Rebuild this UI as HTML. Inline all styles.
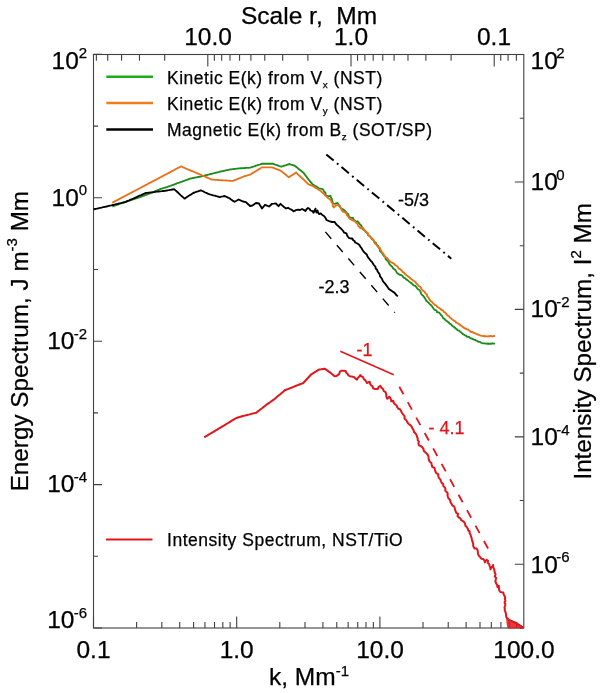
<!DOCTYPE html>
<html><head><meta charset="utf-8"><style>
html,body{margin:0;padding:0;background:#fff;}
svg{display:block;will-change:transform;}
text{font-family:"Liberation Sans",sans-serif;stroke:currentColor;stroke-width:0.25px;}
</style></head><body>
<svg width="600" height="693" viewBox="0 0 600 693">
<rect width="600" height="693" fill="#fff"/>
<rect x="93.5" y="54.5" width="430.3" height="573.5" fill="none" stroke="#404040" stroke-width="1.1"/>
<path d="M93.50 628.0v-11.5 M136.61 628.0v-6 M161.82 628.0v-6 M179.71 628.0v-6 M193.59 628.0v-6 M204.93 628.0v-6 M214.52 628.0v-6 M222.82 628.0v-6 M230.15 628.0v-6 M236.70 628.0v-11.5 M279.81 628.0v-6 M305.02 628.0v-6 M322.91 628.0v-6 M336.79 628.0v-6 M348.13 628.0v-6 M357.72 628.0v-6 M366.02 628.0v-6 M373.35 628.0v-6 M379.90 628.0v-11.5 M423.01 628.0v-6 M448.22 628.0v-6 M466.11 628.0v-6 M479.99 628.0v-6 M491.33 628.0v-6 M500.92 628.0v-6 M509.22 628.0v-6 M516.55 628.0v-6 M516.38 54.5v6.2 M508.08 54.5v6.2 M500.75 54.5v6.2 M494.20 54.5v12 M451.09 54.5v6.2 M425.88 54.5v6.2 M407.98 54.5v6.2 M394.11 54.5v6.2 M382.77 54.5v6.2 M373.18 54.5v6.2 M364.88 54.5v6.2 M357.55 54.5v6.2 M351.00 54.5v12 M307.89 54.5v6.2 M282.68 54.5v6.2 M264.78 54.5v6.2 M250.91 54.5v6.2 M239.57 54.5v6.2 M229.98 54.5v6.2 M221.68 54.5v6.2 M214.35 54.5v6.2 M207.80 54.5v12 M164.69 54.5v6.2 M139.48 54.5v6.2 M121.58 54.5v6.2 M107.71 54.5v6.2 M96.37 54.5v6.2 M93.5 628.00h8.5 M93.5 556.30h4.5 M93.5 484.60h8.5 M93.5 412.90h4.5 M93.5 341.20h8.5 M93.5 269.50h4.5 M93.5 197.80h8.5 M93.5 126.10h4.5 M93.5 54.40h8.5 M523.8 628.00h-4 M523.8 564.28h-9 M523.8 500.56h-4 M523.8 436.84h-9 M523.8 373.12h-4 M523.8 309.40h-9 M523.8 245.68h-4 M523.8 181.96h-9 M523.8 118.24h-4 M523.8 54.52h-9" stroke="#404040" stroke-width="1.1" fill="none"/>
<g font-size="24.5">
<text x="241" y="23.5">Scale r,&#160; Mm</text>
<text x="208" y="44.5" text-anchor="middle">10.0</text>
<text x="351" y="44.5" text-anchor="middle">1.0</text>
<text x="494" y="44.5" text-anchor="middle">0.1</text>
<text x="93.5" y="658" text-anchor="middle">0.1</text>
<text x="236.7" y="658" text-anchor="middle">1.0</text>
<text x="380" y="658" text-anchor="middle">10.0</text>
<text x="524" y="658" text-anchor="middle">100.0</text>
<text x="269" y="684.5">k, Mm<tspan font-size="15" dy="-9">-1</tspan></text>
</g>
<g font-size="24.5">
<text x="51.5" y="68.5">10<tspan font-size="15" dy="-10.5">2</tspan></text>
<text x="51.5" y="205.7">10<tspan font-size="15" dy="-10.5">0</tspan></text>
<text x="47.2" y="349">10<tspan font-size="15" dy="-10.5" dx="-0.8">-2</tspan></text>
<text x="47.2" y="492">10<tspan font-size="15" dy="-10.5" dx="-0.8">-4</tspan></text>
<text x="47.2" y="628">10<tspan font-size="15" dy="-10.5" dx="-0.8">-6</tspan></text>
<text x="530.5" y="68.5">10<tspan font-size="15" dy="-10.5" dx="-1.5">2</tspan></text>
<text x="530.5" y="190">10<tspan font-size="15" dy="-10.5" dx="-1.5">0</tspan></text>
<text x="530.5" y="317.4">10<tspan font-size="15" dy="-10.5" dx="-1.5">-2</tspan></text>
<text x="530.5" y="445">10<tspan font-size="15" dy="-10.5" dx="-1.5">-4</tspan></text>
<text x="530.5" y="572.5">10<tspan font-size="15" dy="-10.5" dx="-1.5">-6</tspan></text>
</g>
<text font-size="24.25" transform="translate(27.8,491.3) rotate(-90)">Energy Spectrum, J m<tspan font-size="15" dy="-11">-3</tspan><tspan dy="11"> Mm</tspan></text>
<text font-size="24.25" transform="translate(591.2,479.6) rotate(-90)">Intensity Spectrum, I<tspan font-size="15" dy="-10">2</tspan><tspan dy="10"> Mm</tspan></text>
<g font-size="17.5" letter-spacing="0.52">
<text x="167" y="83.75">Kinetic E(k) from V<tspan font-size="9.8" dy="3.8">x</tspan><tspan dy="-3.8"> (NST)</tspan></text>
<text x="167" y="110">Kinetic E(k) from V<tspan font-size="9.8" dy="3.8">y</tspan><tspan dy="-3.8"> (NST)</tspan></text>
<text x="167" y="136.25">Magnetic E(k) from B<tspan font-size="9.8" dy="3.8">z</tspan><tspan dy="-3.8"> (SOT/SP)</tspan></text>
</g>
<path d="M106.3 76.8H153" stroke="#1faa1f" stroke-width="2.5"/>
<path d="M106.3 103H153" stroke="#f07d1e" stroke-width="2.5"/>
<path d="M106.3 129.5H153" stroke="#000" stroke-width="2.5"/>
<g fill="none" stroke-width="1.85" stroke-linejoin="round">
<path d="M112.3 206.3 L113.1 206.0 L113.9 205.8 L114.6 205.5 L115.4 205.3 L116.2 205.0 L117.0 204.8 L117.7 204.5 L118.5 204.3 L119.3 204.0 L120.1 203.7 L120.9 203.5 L121.6 203.2 L122.4 203.0 L123.2 202.7 L124.0 202.5 L124.7 202.2 L125.5 202.0 L126.3 201.7 L127.1 201.4 L127.8 201.2 L128.6 200.9 L129.3 200.7 L130.1 200.4 L130.9 200.2 L131.6 199.9 L132.4 199.7 L133.1 199.4 L133.9 199.2 L134.7 198.9 L135.4 198.7 L136.2 198.4 L137.0 198.2 L137.7 197.9 L138.5 197.7 L139.2 197.4 L140.0 197.2 L140.8 196.9 L141.7 196.5 L142.5 196.2 L143.3 195.9 L144.2 195.6 L145.0 195.2 L145.8 194.9 L146.7 194.6 L147.5 194.3 L148.3 194.0 L149.2 193.6 L150.0 193.3 L150.8 193.0 L151.7 192.6 L152.5 192.3 L153.3 191.9 L154.2 191.6 L155.0 191.2 L155.8 190.9 L156.7 190.6 L157.5 190.2 L158.3 189.9 L159.2 189.5 L160.0 189.2 L160.8 188.9 L161.7 188.7 L162.5 188.4 L163.3 188.1 L164.2 187.9 L165.0 187.6 L165.8 187.3 L166.7 187.1 L167.5 186.8 L168.3 186.5 L169.2 186.3 L170.0 186.0 L170.8 185.7 L171.7 185.4 L172.5 185.1 L173.3 184.8 L174.2 184.5 L175.0 184.2 L175.8 183.8 L176.7 183.5 L177.5 183.2 L178.3 182.9 L179.2 182.6 L180.0 182.3 L180.8 182.0 L181.7 181.7 L182.5 181.4 L183.3 181.1 L184.2 180.8 L185.0 180.5 L185.8 180.2 L186.7 179.9 L187.5 179.6 L188.3 179.3 L189.2 179.0 L190.0 178.7 L190.8 178.5 L191.7 178.4 L192.5 178.2 L193.3 178.0 L194.2 177.9 L195.0 177.7 L195.8 177.5 L196.7 177.4 L197.5 177.2 L198.3 177.0 L199.2 176.9 L200.0 176.7 L200.8 176.5 L201.7 176.3 L202.5 176.1 L203.3 175.9 L204.2 175.7 L205.0 175.4 L205.8 175.2 L206.7 175.0 L207.5 174.8 L208.3 174.6 L209.2 174.4 L210.0 174.2 L210.8 174.0 L211.7 173.8 L212.5 173.6 L213.3 173.4 L214.2 173.2 L215.0 172.9 L215.8 172.7 L216.7 172.5 L217.5 172.3 L218.3 172.1 L219.2 171.9 L220.0 171.7 L220.8 171.5 L221.7 171.3 L222.5 171.1 L223.3 171.0 L224.2 170.8 L225.0 170.6 L225.8 170.4 L226.7 170.2 L227.5 170.1 L228.3 169.9 L229.2 169.7 L230.0 169.5 L230.8 169.4 L231.7 169.3 L232.5 169.2 L233.3 169.1 L234.2 169.0 L235.0 168.9 L235.8 168.8 L236.7 168.7 L237.5 168.6 L238.3 168.5 L239.2 168.4 L240.0 168.3 L240.8 168.2 L241.7 168.2 L242.5 168.2 L243.3 168.1 L244.2 168.1 L245.0 168.0 L245.8 167.9 L246.7 167.9 L247.5 167.8 L248.3 167.8 L249.2 167.8 L250.0 167.7 L250.9 167.4 L251.7 167.1 L252.6 166.8 L253.4 166.6 L254.3 166.3 L255.1 166.0 L256.0 165.7 L256.9 165.4 L257.7 165.1 L258.6 164.8 L259.4 164.6 L260.3 164.3 L261.1 164.0 L262.0 163.7 L262.9 163.7 L263.8 163.7 L264.7 163.7 L265.6 163.7 L266.5 163.7 L267.4 163.7 L268.2 163.7 L269.1 163.7 L270.0 163.7 L270.9 163.7 L271.8 163.7 L272.7 163.7 L273.6 164.0 L274.4 164.3 L275.3 164.6 L276.1 164.9 L277.0 165.2 L277.9 165.5 L278.7 165.8 L279.6 166.1 L280.4 166.4 L281.3 166.7 L282.1 166.4 L282.9 166.2 L283.7 165.9 L284.5 165.6 L285.3 165.3 L286.1 165.1 L286.9 164.8 L287.7 164.5 L288.5 164.3 L289.3 164.0 L290.2 164.3 L291.1 164.6 L292.0 164.8 L292.9 165.1 L293.8 165.4 L294.7 165.7 L295.4 166.2 L296.0 166.8 L296.7 167.3 L297.4 167.8 L298.0 168.4 L298.7 168.9 L299.3 169.5 L300.0 170.0 L300.8 170.6 L301.6 171.2 L302.5 171.9 L303.3 172.5 L303.8 173.2 L304.3 173.8 L304.8 174.5 L305.3 175.2 L305.8 175.8 L306.3 176.5 L306.8 177.2 L307.3 177.9 L307.8 178.5 L308.3 179.2 L308.8 179.8 L309.4 180.4 L309.9 181.1 L310.4 181.7 L310.9 182.3 L311.4 182.9 L312.0 183.6 L312.5 184.2 L313.3 184.7 L314.2 185.3 L315.0 185.8 L315.8 186.2 L316.7 186.6 L317.4 187.2 L318.1 187.9 L318.9 188.3 L319.8 188.6 L320.7 188.7 L321.7 188.8 L322.6 189.3 L323.4 189.8 L323.8 190.8 L324.2 191.7 L324.9 192.2 L325.5 192.8 L325.5 193.7 L325.5 194.7 L326.1 195.2 L326.7 195.8 L327.6 196.0 L328.5 196.1 L329.5 196.0 L330.4 195.8 L330.6 196.6 L330.8 197.4 L331.3 198.0 L331.8 198.7 L331.9 199.5 L332.0 200.4 L332.3 201.1 L332.6 201.9 L332.9 202.6 L333.3 203.3 L334.1 203.6 L335.0 203.8 L335.8 203.5 L336.7 203.2 L337.5 202.9 L338.0 203.8 L338.5 204.8 L339.3 205.5 L340.1 206.3 L340.5 207.3 L340.8 208.3 L341.5 208.7 L342.2 209.0 L343.0 209.4 L343.7 209.8 L344.3 210.3 L345.0 210.8 L345.5 211.4 L346.0 212.1 L346.4 212.7 L347.1 213.2 L347.7 213.7 L348.3 214.2 L348.5 215.2 L348.7 216.3 L349.5 217.0 L350.3 217.7 L351.2 217.8 L352.1 217.9 L353.0 218.0 L353.3 218.9 L353.6 219.7 L354.4 220.2 L355.2 220.7 L355.7 221.4 L356.3 222.0 L357.0 221.7 L357.7 221.3 L358.2 222.0 L358.7 222.7 L359.3 223.4 L359.8 224.1 L360.4 224.7 L361.0 225.4 L361.5 226.1 L361.9 226.9 L362.1 227.8 L362.3 228.7 L363.0 229.2 L363.6 229.8 L364.3 230.3 L365.1 230.8 L365.6 231.4 L366.2 232.1 L366.8 232.7 L367.5 233.3 L367.8 234.2 L368.1 235.1 L368.9 235.5 L369.6 236.0 L370.2 236.7 L370.8 237.3 L371.3 238.1 L371.9 238.9 L372.7 239.5 L373.4 240.1 L373.9 241.0 L374.3 241.9 L375.1 242.4 L376.0 242.9 L376.4 243.8 L376.8 244.6 L377.5 245.3 L378.1 245.9 L378.5 246.8 L378.9 247.7 L379.3 248.4 L379.7 249.2 L379.9 250.1 L380.0 251.0 L380.6 251.6 L381.2 252.2 L381.8 252.8 L382.3 253.5 L382.7 254.2 L383.1 254.8 L383.6 255.5 L384.0 256.1 L384.7 256.6 L385.4 257.1 L385.5 258.0 L385.6 259.0 L386.2 259.6 L386.8 260.2 L387.4 260.7 L388.1 261.2 L388.5 262.0 L388.8 262.8 L389.2 263.5 L389.6 264.3 L390.2 264.9 L390.8 265.5 L391.5 266.1 L392.1 266.7 L392.6 267.6 L393.2 268.5 L394.1 269.1 L395.0 269.6 L395.6 270.5 L396.2 271.3 L396.6 272.1 L397.1 273.0 L397.8 273.5 L398.4 274.1 L399.3 274.5 L400.2 274.8 L401.2 275.2 L402.2 275.6 L402.8 276.5 L403.4 277.4 L404.3 277.9 L405.3 278.3 L405.8 278.9 L406.4 279.6 L407.1 279.9 L407.8 280.3 L408.4 280.9 L409.0 281.4 L409.7 281.9 L410.3 282.4 L411.2 283.0 L412.0 283.6 L412.7 284.4 L413.4 285.2 L414.4 285.6 L415.4 285.9 L416.0 286.6 L416.6 287.3 L417.1 288.2 L417.6 289.0 L418.4 289.5 L419.3 290.0 L419.9 290.7 L420.4 291.5 L420.7 292.4 L421.0 293.3 L421.4 294.1 L421.9 294.8 L422.7 295.4 L423.4 296.0 L423.9 296.7 L424.4 297.5 L424.9 298.2 L425.4 298.8 L425.7 299.6 L426.0 300.4 L426.6 301.0 L427.2 301.5 L427.9 302.1 L428.5 302.6 L429.1 303.3 L429.8 304.1 L430.5 304.7 L431.3 305.4 L431.9 306.1 L432.4 306.9 L433.0 307.8 L433.5 308.6 L434.1 309.2 L434.6 309.8 L435.5 310.1 L436.4 310.3 L436.7 311.2 L437.0 312.1 L438.0 312.3 L438.9 312.4 L439.5 313.1 L440.0 313.7 L440.7 314.4 L441.2 315.3 L442.1 315.9 L442.5 316.9 L443.0 317.8 L443.7 318.5 L444.6 318.8 L445.0 319.6 L445.7 320.2 L446.4 320.8 L447.1 321.2 L447.7 321.9 L448.6 322.2 L449.0 323.0 L449.7 323.6 L450.3 324.1 L451.2 324.4 L451.6 325.2 L452.3 325.8 L453.0 326.4 L453.9 326.7 L454.3 327.5 L455.2 327.7 L455.6 328.5 L456.3 328.9 L457.0 329.4 L457.5 330.1 L458.3 330.4 L459.2 330.7 L459.6 331.4 L460.4 331.7 L461.0 332.4 L461.6 332.9 L462.3 333.4 L462.8 334.1 L463.7 334.3 L464.3 334.9 L465.0 335.3 L465.8 335.6 L466.6 336.1 L467.2 336.8 L468.2 336.9 L469.2 337.0 L469.8 337.7 L470.5 338.4 L471.4 338.5 L472.3 338.7 L473.0 339.3 L473.9 339.4 L474.6 339.9 L475.4 340.0 L476.1 340.6 L476.9 340.7 L477.6 341.2 L478.3 341.8 L479.2 341.8 L480.1 341.9 L480.8 342.5 L481.5 342.8 L482.3 343.1 L483.1 343.3 L484.0 343.3 L484.8 343.3 L485.6 343.6 L486.5 343.7 L487.3 343.8 L488.2 343.5 L489.0 344.0 L490.0 343.5 L491.0 343.8 L492.0 343.4 L493.0 343.5 L494.0 343.6 L495.0 343.3" stroke="#1a8c1a"/>
<path d="M112.3 202.7 L113.0 202.3 L113.7 201.9 L114.4 201.6 L115.2 201.2 L115.9 200.8 L116.6 200.4 L117.3 200.1 L118.0 199.7 L118.7 199.3 L119.5 198.9 L120.2 198.5 L120.9 198.2 L121.6 197.8 L122.3 197.4 L123.0 197.0 L123.8 196.6 L124.5 196.3 L125.2 195.9 L125.9 195.5 L126.6 195.1 L127.3 194.8 L128.0 194.4 L128.8 194.0 L129.5 193.6 L130.2 193.2 L130.9 192.9 L131.6 192.5 L132.3 192.1 L133.1 191.7 L133.8 191.4 L134.5 191.0 L135.2 190.6 L135.9 190.2 L136.6 189.8 L137.3 189.5 L138.1 189.1 L138.8 188.7 L139.5 188.3 L140.2 188.0 L140.9 187.6 L141.6 187.2 L142.4 186.8 L143.1 186.4 L143.8 186.1 L144.5 185.7 L145.2 185.3 L145.9 184.9 L146.7 184.6 L147.4 184.2 L148.1 183.8 L148.8 183.4 L149.5 183.0 L150.2 182.7 L150.9 182.3 L151.7 181.9 L152.4 181.5 L153.1 181.1 L153.8 180.8 L154.5 180.4 L155.2 180.0 L156.0 179.6 L156.7 179.3 L157.4 178.9 L158.1 178.5 L158.8 178.1 L159.5 177.7 L160.2 177.4 L161.0 177.0 L161.7 176.6 L162.4 176.2 L163.1 175.9 L163.8 175.5 L164.5 175.1 L165.3 174.7 L166.0 174.3 L166.7 174.0 L167.4 173.6 L168.1 173.2 L168.8 172.8 L169.6 172.4 L170.3 172.1 L171.0 171.7 L171.7 171.3 L172.4 170.9 L173.1 170.6 L173.8 170.2 L174.6 169.8 L175.3 169.4 L176.0 169.0 L176.7 168.7 L177.4 168.3 L178.1 167.9 L178.9 167.5 L179.6 167.2 L180.3 166.8 L181.0 166.4 L181.8 166.7 L182.5 167.0 L183.3 167.4 L184.0 167.7 L184.8 168.0 L185.5 168.3 L186.3 168.6 L187.1 169.0 L187.8 169.3 L188.6 169.6 L189.3 169.9 L190.1 170.2 L190.8 170.6 L191.6 170.9 L192.3 171.2 L193.1 171.5 L193.9 171.8 L194.6 172.2 L195.4 172.5 L196.1 172.8 L196.9 173.1 L197.6 173.4 L198.4 173.8 L199.2 174.1 L199.9 174.4 L200.7 174.7 L201.4 175.0 L202.2 175.4 L202.9 175.7 L203.7 176.0 L204.5 176.4 L205.3 176.7 L206.1 177.1 L206.9 177.4 L207.7 177.8 L208.5 178.2 L209.3 178.5 L210.1 178.9 L210.9 179.2 L211.7 179.6 L212.5 179.6 L213.3 179.7 L214.2 179.8 L215.0 179.8 L215.8 179.8 L216.6 179.9 L217.4 179.9 L218.3 180.0 L219.1 180.1 L219.9 180.1 L220.7 180.1 L221.5 180.2 L222.3 180.2 L223.2 180.3 L224.0 180.4 L224.8 180.4 L225.6 180.4 L226.4 180.5 L227.3 180.6 L228.1 180.6 L228.9 180.7 L229.7 180.7 L230.5 180.8 L231.4 180.8 L232.2 180.9 L233.0 180.9 L233.9 180.5 L234.8 180.2 L235.6 179.8 L236.5 179.4 L237.4 179.1 L238.2 178.7 L239.1 178.4 L240.0 178.0 L240.8 177.7 L241.7 177.3 L242.5 177.0 L243.3 176.7 L244.2 176.3 L245.0 176.0 L245.8 175.8 L246.7 175.6 L247.5 175.3 L248.3 175.1 L249.2 174.9 L250.0 174.7 L250.8 174.2 L251.5 173.8 L252.2 173.3 L253.0 172.8 L253.8 172.4 L254.5 171.9 L255.2 171.5 L256.0 171.0 L256.8 170.5 L257.5 170.1 L258.2 169.6 L259.0 169.2 L259.8 168.7 L260.5 168.2 L261.2 167.8 L262.0 167.3 L262.8 167.3 L263.7 167.3 L264.5 167.3 L265.3 167.3 L266.2 167.3 L267.0 167.3 L267.8 167.3 L268.7 167.3 L269.5 167.3 L270.3 167.3 L271.2 167.3 L272.0 167.3 L272.9 167.6 L273.7 168.0 L274.6 168.3 L275.5 168.7 L276.4 169.0 L277.2 169.3 L278.1 169.7 L279.0 170.0 L279.8 170.4 L280.7 170.7 L281.4 171.2 L282.1 171.8 L282.8 172.3 L283.5 172.9 L284.2 173.4 L284.9 174.0 L285.5 174.6 L286.2 175.1 L286.9 175.7 L287.6 176.2 L288.3 176.8 L289.0 177.3 L289.7 176.8 L290.4 176.3 L291.1 175.8 L291.8 175.3 L292.5 174.9 L293.2 174.4 L293.9 173.9 L294.6 173.4 L295.3 172.9 L296.0 172.4 L296.7 173.1 L297.3 173.7 L298.0 174.4 L298.7 175.0 L299.3 175.7 L300.0 176.3 L300.8 177.0 L301.6 177.8 L302.5 178.5 L303.3 179.2 L303.9 179.8 L304.6 180.4 L305.2 181.1 L305.8 181.7 L306.4 182.3 L307.1 182.9 L307.7 183.6 L308.3 184.2 L309.1 184.6 L310.0 184.9 L310.8 185.2 L311.6 185.6 L312.5 185.9 L313.3 186.3 L314.0 186.8 L314.8 187.2 L315.5 187.7 L316.2 188.2 L317.0 188.6 L317.7 189.1 L318.5 189.5 L319.2 190.0 L320.0 190.5 L320.9 191.0 L321.5 191.8 L322.1 192.5 L322.9 193.1 L323.7 193.6 L324.3 194.3 L325.0 195.0 L325.7 195.7 L326.3 196.4 L327.0 197.0 L327.7 197.6 L328.4 198.2 L329.2 198.8 L329.8 199.3 L330.3 199.8 L330.9 200.4 L331.2 201.1 L331.4 201.8 L331.7 202.5 L332.3 203.2 L332.9 203.9 L332.8 205.0 L332.7 206.0 L333.2 206.7 L333.8 207.5 L334.4 206.8 L335.1 206.1 L335.8 205.4 L336.6 205.3 L337.5 205.1 L338.3 205.0 L339.0 205.8 L339.7 206.5 L340.3 207.3 L340.8 208.2 L341.3 209.1 L341.7 210.0 L342.3 210.8 L342.9 211.6 L343.8 211.9 L344.8 212.2 L345.5 212.7 L346.3 213.3 L346.7 214.3 L347.1 215.3 L347.8 216.1 L348.6 216.9 L349.1 217.8 L349.7 218.7 L350.7 219.3 L351.6 219.8 L352.7 220.3 L353.7 220.7 L354.5 221.1 L355.3 221.5 L355.8 222.3 L356.3 223.0 L357.0 223.5 L357.7 224.0 L357.9 224.8 L358.2 225.7 L358.8 226.3 L359.4 226.9 L359.9 227.6 L360.3 228.3 L361.2 228.1 L362.1 227.9 L363.0 227.7 L363.4 228.5 L363.8 229.3 L364.4 230.0 L365.0 230.8 L365.6 231.4 L366.2 232.1 L367.0 232.6 L367.7 233.1 L368.0 234.0 L368.3 234.9 L368.9 235.5 L369.6 236.1 L370.2 236.7 L370.8 237.3 L371.5 238.0 L372.2 238.7 L372.9 239.4 L373.6 240.0 L373.9 241.0 L374.3 241.9 L374.7 242.8 L375.1 243.6 L375.9 244.2 L376.6 244.8 L377.1 245.6 L377.5 246.4 L378.2 247.1 L378.9 247.7 L380.0 248.0 L380.2 248.8 L380.4 249.6 L380.9 250.3 L381.4 251.0 L381.7 251.7 L382.0 252.5 L382.6 253.1 L383.3 253.6 L383.7 254.4 L384.0 255.1 L384.6 255.9 L385.1 256.7 L385.9 257.2 L386.8 257.7 L387.4 258.4 L388.1 259.1 L388.6 259.9 L389.1 260.7 L389.8 261.3 L390.5 261.8 L391.3 262.3 L392.1 262.7 L393.0 263.1 L394.0 263.6 L394.6 264.4 L395.2 265.2 L396.0 265.5 L396.7 265.9 L397.3 266.4 L397.9 266.9 L398.3 267.8 L398.6 268.6 L399.4 268.9 L400.2 269.2 L400.9 269.8 L401.5 270.4 L402.1 271.1 L402.6 271.9 L403.4 272.4 L404.2 272.9 L404.7 273.6 L405.3 274.3 L405.9 274.8 L406.5 275.3 L407.2 275.7 L407.9 276.2 L408.5 276.7 L409.2 277.2 L409.7 277.7 L410.3 278.3 L411.1 278.9 L411.9 279.6 L412.8 280.2 L413.6 280.8 L414.5 281.3 L415.4 281.9 L415.9 282.7 L416.3 283.5 L417.0 284.0 L417.7 284.6 L418.3 285.3 L418.8 286.0 L419.6 286.5 L420.4 286.9 L420.9 287.8 L421.4 288.7 L422.0 289.5 L422.6 290.4 L423.5 290.9 L424.4 291.5 L424.8 292.3 L425.3 293.1 L426.0 293.7 L426.8 294.3 L427.0 295.3 L427.1 296.2 L427.8 296.9 L428.5 297.5 L428.9 298.4 L429.3 299.4 L430.0 300.1 L430.6 300.9 L431.4 301.5 L432.2 302.1 L432.8 302.9 L433.5 303.6 L434.1 304.2 L434.6 304.8 L435.5 305.1 L436.3 305.3 L436.7 306.1 L437.2 306.9 L437.9 307.3 L438.6 307.7 L439.3 308.1 L440.0 308.6 L440.8 308.9 L441.1 309.8 L442.0 310.0 L442.8 310.3 L443.2 311.1 L443.7 311.8 L444.4 312.2 L445.3 312.6 L445.6 313.4 L446.4 313.8 L446.9 314.5 L447.2 315.4 L448.1 315.6 L448.8 316.0 L449.3 316.8 L449.8 317.4 L450.5 317.9 L451.1 318.4 L451.7 319.0 L452.4 319.5 L453.0 320.0 L453.7 320.4 L454.4 320.9 L455.2 321.2 L455.7 321.9 L456.2 322.6 L457.0 322.9 L457.9 323.1 L458.3 323.8 L459.1 324.1 L459.6 324.8 L460.5 324.9 L461.0 325.7 L461.7 326.1 L462.3 326.7 L463.1 327.1 L463.9 327.6 L464.5 328.3 L465.4 328.5 L466.3 328.8 L467.0 329.4 L467.9 329.5 L468.6 330.2 L469.4 330.5 L470.1 331.1 L470.7 331.9 L471.7 332.0 L472.6 332.0 L473.2 332.6 L474.0 333.0 L474.8 333.2 L475.6 333.5 L476.4 333.9 L477.1 334.3 L477.9 334.5 L478.7 334.7 L479.4 335.1 L480.2 335.5 L481.0 335.7 L481.8 335.8 L482.7 335.9 L483.5 336.1 L484.4 336.0 L485.2 336.5 L486.0 336.2 L486.9 336.4 L487.7 336.4 L488.6 336.1 L489.5 336.3 L490.4 335.9 L491.4 336.2 L492.3 336.5 L493.2 336.1 L494.1 336.0 L495.0 336.0" stroke="#e87018"/>
<path d="M93.5 209.4 L95.1 209.0 L96.8 208.7 L98.4 208.3 L100.0 207.9 L101.6 207.6 L103.2 207.2 L104.9 206.8 L106.5 206.5 L108.1 206.1 L109.8 205.7 L111.4 205.4 L113.0 205.0 L114.6 204.6 L116.2 204.2 L117.8 203.8 L119.3 203.4 L120.9 203.1 L122.5 202.7 L124.1 202.3 L125.7 201.9 L127.2 201.2 L128.8 200.5 L130.3 199.8 L131.9 199.2 L133.4 198.5 L134.9 197.8 L136.5 197.1 L138.0 196.4 L139.5 195.7 L141.1 195.1 L142.6 194.4 L144.2 193.7 L145.7 193.0 L147.3 192.8 L148.9 192.6 L150.5 192.4 L152.2 192.3 L153.8 192.1 L155.4 191.9 L157.0 191.7 L158.6 191.5 L160.2 191.3 L161.8 191.2 L163.4 191.0 L165.0 190.8 L166.8 190.5 L168.7 190.2 L170.5 189.8 L172.4 189.5 L174.2 189.2 L175.5 190.4 L176.8 191.5 L178.1 192.7 L179.3 193.9 L180.6 195.1 L181.9 196.2 L183.2 197.4 L184.5 198.6 L185.9 197.7 L187.4 196.7 L188.8 195.8 L190.3 194.9 L191.8 193.9 L193.2 193.0 L194.7 192.5 L196.2 191.9 L197.8 191.4 L199.3 190.8 L200.8 190.3 L202.3 191.0 L203.8 191.7 L205.3 192.5 L206.8 193.2 L208.3 193.9 L209.9 194.4 L211.6 194.8 L213.2 195.3 L214.8 195.7 L216.4 196.2 L218.1 196.6 L219.7 197.1 L221.3 196.7 L223.0 196.4 L224.6 196.0 L226.1 196.7 L227.5 197.3 L229.0 198.0 L230.4 198.9 L231.8 199.9 L233.1 200.9 L234.5 201.8 L236.5 200.7 L238.5 199.5 L240.0 200.2 L241.5 200.8 L243.0 201.5 L246.0 202.2 L247.3 203.5 L248.7 204.7 L250.0 206.0 L252.5 205.5 L254.2 204.2 L256.0 203.0 L259.0 203.5 L260.0 205.2 L261.0 206.8 L262.0 208.5 L263.5 206.7 L265.0 204.8 L267.0 205.7 L269.0 206.5 L270.5 205.2 L272.0 203.8 L274.0 203.7 L276.0 203.5 L277.2 204.8 L278.5 206.2 L280.5 203.8 L282.2 205.4 L284.0 207.0 L286.0 208.5 L288.0 207.8 L290.0 209.0 L291.9 209.9 L293.5 211.3 L296.0 210.2 L298.0 209.7 L300.0 210.0 L302.0 209.0 L303.8 209.9 L305.5 211.0 L306.5 209.3 L308.0 208.0 L309.6 208.9 L310.5 210.5 L312.5 211.2 L313.5 212.8 L314.4 210.7 L315.5 208.6 L315.6 210.7 L316.5 212.5 L317.5 210.5 L318.0 212.4 L319.0 214.0 L321.0 213.5 L322.3 215.0 L324.0 216.0 L325.5 217.9 L326.5 220.0 L329.0 221.2 L332.0 222.0 L334.5 221.8 L336.0 224.0 L337.2 225.2 L338.6 226.2 L339.6 227.5 L341.0 228.6 L342.2 229.8 L343.3 231.2 L344.2 232.7 L346.5 233.3 L346.9 235.0 L347.8 236.5 L348.9 237.9 L350.5 238.5 L352.3 238.5 L353.0 240.0 L354.5 241.0 L355.2 242.5 L357.3 243.5 L359.2 244.8 L360.3 246.6 L361.6 248.3 L362.4 249.7 L363.3 251.1 L364.3 252.4 L365.6 253.5 L366.9 254.7 L367.5 256.5 L368.5 257.9 L369.6 259.3 L370.8 260.8 L372.2 262.2 L373.1 263.9 L374.1 265.3 L375.4 266.6 L375.7 268.5 L377.1 269.7 L377.6 271.5 L378.7 272.9 L379.7 274.4 L380.0 276.3 L381.2 277.7 L382.1 279.1 L382.7 280.7 L383.7 282.1 L384.9 283.3 L385.8 284.7 L387.0 286.2 L388.1 287.8 L389.3 289.3 L391.0 290.4 L392.7 291.6 L394.2 292.5 L395.4 293.8 L396.4 295.3 L397.9 296.2" stroke="#000"/>
<path d="M204.3 437.3 L205.7 436.4 L207.2 435.6 L208.6 434.7 L210.0 433.9 L211.4 433.0 L212.9 432.2 L214.3 431.3 L215.7 430.4 L217.2 429.6 L218.6 428.7 L220.0 427.9 L221.4 427.0 L222.9 426.2 L224.3 425.3 L225.8 424.4 L227.3 423.5 L228.8 422.6 L230.3 421.6 L231.8 420.7 L233.3 419.8 L234.8 418.9 L236.3 418.0 L238.0 417.5 L239.7 417.0 L241.3 416.5 L243.0 416.0 L244.7 415.6 L246.3 415.2 L248.0 414.8 L249.7 414.4 L251.3 413.9 L253.0 413.5 L254.6 413.1 L256.3 412.7 L257.6 411.6 L259.0 410.6 L260.3 409.5 L261.7 408.5 L263.0 407.4 L264.4 406.4 L265.7 405.3 L267.0 404.4 L268.4 403.4 L269.7 402.5 L271.0 401.5 L272.3 400.6 L273.7 399.6 L275.0 398.7 L276.2 397.6 L277.4 396.6 L278.6 395.6 L279.9 394.5 L281.1 393.4 L282.3 392.4 L283.5 391.4 L284.7 390.3 L286.2 389.7 L287.8 389.1 L289.4 388.5 L290.9 387.9 L292.4 387.3 L294.0 386.6 L295.6 386.0 L297.1 385.4 L298.6 384.8 L300.2 384.2 L301.8 383.6 L303.3 383.0 L304.4 381.8 L305.6 380.5 L306.7 379.3 L307.9 378.0 L309.0 376.8 L310.2 375.5 L311.3 374.3 L312.9 373.3 L314.5 372.3 L316.1 371.4 L317.7 370.4 L319.3 369.4 L321.1 369.2 L322.9 368.9 L324.7 368.7 L326.1 369.6 L327.5 370.6 L328.9 371.6 L330.3 372.6 L331.6 373.7 L332.9 374.7 L334.2 375.9 L336.0 376.3 L337.7 375.1 L339.3 373.9 L339.8 371.6 L341.7 370.7 L343.7 370.8 L345.7 371.0 L346.2 372.7 L347.5 373.8 L348.3 375.3 L349.7 376.3 L352.3 376.6 L354.2 377.2 L355.5 378.6 L357.0 379.7 L357.8 377.9 L359.3 376.6 L360.3 375.0 L361.4 376.4 L363.1 377.2 L363.7 379.0 L365.1 380.1 L366.1 381.5 L367.0 383.0 L369.7 381.7 L370.0 383.6 L371.0 385.2 L372.6 386.4 L373.0 388.3 L375.3 389.1 L377.7 389.0 L378.6 387.0 L380.3 385.7 L381.3 387.6 L383.0 389.0 L383.7 391.0 L385.5 392.2 L386.3 394.3 L386.3 396.6 L387.3 398.7 L389.3 396.7 L390.3 398.1 L391.0 399.6 L391.3 401.3 L393.3 400.7 L393.7 402.7 L394.9 404.3 L396.6 405.5 L397.3 407.3 L398.3 408.8 L400.0 409.3 L401.1 411.1 L402.0 413.0 L403.3 414.7 L404.6 416.3 L404.5 418.5 L406.0 420.0 L407.0 421.5 L407.9 423.1 L409.1 424.3 L410.7 425.3 L411.8 426.9 L412.5 428.6 L413.6 430.1 L414.0 432.0 L415.4 433.3 L416.5 434.8 L417.0 436.7 L417.7 438.4 L417.7 440.2 L418.9 441.7 L418.4 443.6 L419.0 445.3 L420.8 446.1 L422.3 447.3 L423.4 448.7 L423.7 450.7 L425.0 452.0 L426.4 453.3 L427.7 454.7 L428.4 456.4 L428.6 458.2 L429.0 460.0 L429.7 461.7 L431.3 462.8 L431.7 464.7 L432.2 466.8 L434.5 467.9 L435.0 470.0 L435.5 471.7 L436.2 473.2 L438.1 474.2 L438.3 476.0 L438.8 477.9 L440.3 479.4 L441.0 481.3 L441.7 482.9 L443.2 484.1 L443.3 486.0 L444.7 487.2 L445.4 488.8 L445.3 490.8 L446.7 492.0 L447.7 493.4 L447.5 495.2 L447.9 496.8 L448.4 498.3 L449.8 499.6 L450.3 501.1 L450.7 502.7 L451.7 504.0 L452.4 505.6 L454.1 506.3 L454.7 508.0 L455.0 509.7 L455.7 511.3 L456.2 512.8 L458.0 513.9 L457.5 516.0 L458.7 517.3 L460.3 518.3 L461.1 520.0 L462.9 521.1 L464.5 522.6 L465.1 524.1 L465.4 525.7 L466.7 526.9 L467.8 528.8 L468.4 530.8 L469.7 531.2 L469.6 533.1 L470.6 534.7 L471.0 536.4 L471.7 538.1 L471.9 539.9 L472.6 541.9 L473.2 543.9 L473.2 546.0 L474.5 548.5 L476.6 548.5 L477.6 550.1 L477.9 551.8 L477.9 553.7 L478.8 555.6 L480.1 557.2 L481.3 558.7 L483.1 558.9 L484.4 560.4 L484.8 562.4 L486.6 559.8 L488.0 560.9 L487.8 563.0 L489.2 564.1 L489.6 565.8 L490.2 567.5 L490.5 569.3 L491.1 567.7 L492.3 566.5 L493.1 565.0 L493.1 567.0 L494.0 568.9 L494.5 570.8 L494.8 572.8 L495.6 574.5 L494.7 576.4 L496.1 578.0 L495.7 579.9 L495.4 581.7 L496.1 583.4 L497.2 585.0 L497.4 587.0 L498.8 585.7 L498.9 587.8 L499.1 590.0 L500.1 591.9 L501.7 592.3 L503.3 592.4 L503.6 594.3 L504.6 596.0 L505.2 597.6 L504.9 599.2 L505.4 600.8 L504.5 602.4 L505.3 604.0 L505.2 605.6 L504.5 607.2 L504.8 608.8 L504.7 610.4 L505.5 612.0 L505.9 613.8 L506.1 615.6 L506.4 617.4 L507.9 618.8 L509.5 620.1 L511.1 620.8 L512.6 621.5 L514.2 622.1 L515.8 622.8 L517.2 623.7 L518.6 624.7 L520.1 625.6 L521.5 626.6 L522.9 627.5" stroke="#e0161c" stroke-width="2"/>
<path d="M506 616.5L509.5 619.5L516 622L523 626.5L523.5 628.5L507.5 628.5L506.5 623Z" fill="#e0161c" fill-opacity="0.85" stroke="none"/>
</g>
<path d="M326.3 154.4L451.3 258.7" stroke="#000" stroke-width="2" stroke-dasharray="9.6 4.3 1.8 4.1" fill="none"/>
<path d="M325.4 231.9L394.9 312.66" stroke="#000" stroke-width="1.4" stroke-dasharray="9 8.6" fill="none"/>
<path d="M340.3 351.3L393.7 374.7" stroke="#e0161c" stroke-width="1.5" fill="none"/>
<path d="M399.3 386.7L488.2 548.8" stroke="#e0161c" stroke-width="1.8" stroke-dasharray="8.6 9" fill="none"/>
<g font-size="18">
<text x="398" y="206">-5/3</text>
<text x="318.5" y="292.9">-2.3</text>
<text x="356.5" y="355.7" fill="#e0161c" color="#e0161c">-1</text>
<text x="428.5" y="434" fill="#e0161c" color="#e0161c">- 4.1</text>
</g>
<path d="M106 539.5H152.5" stroke="#e0161c" stroke-width="2"/>
<text x="167" y="546.3" font-size="17.5" letter-spacing="0.52">Intensity Spectrum, NST/TiO</text>

</svg>
</body></html>
